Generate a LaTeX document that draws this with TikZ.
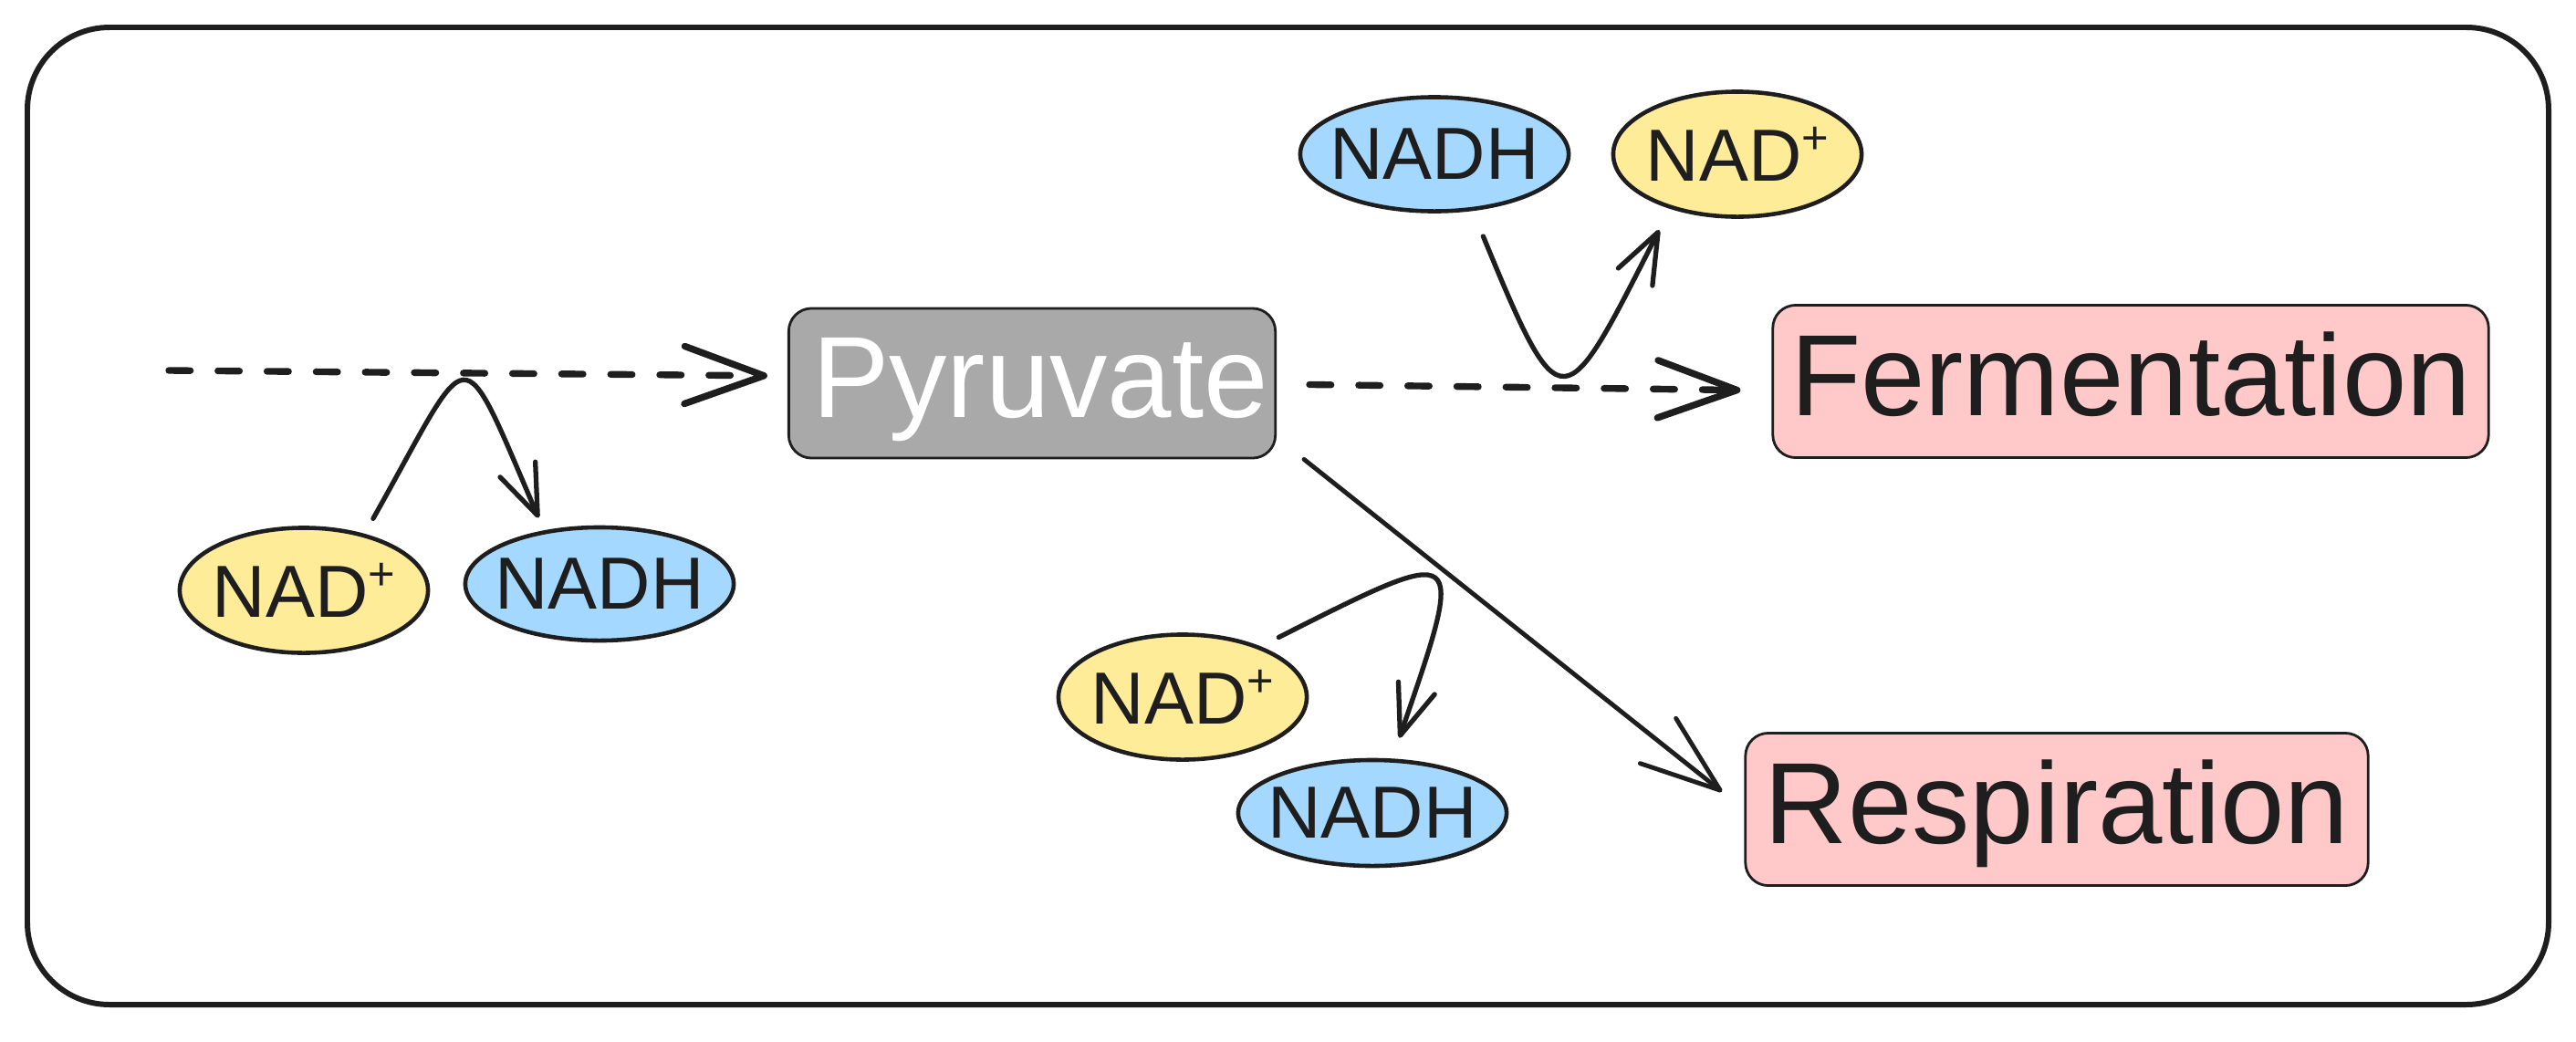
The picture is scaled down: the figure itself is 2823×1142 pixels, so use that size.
\documentclass[tikz,border=0pt]{standalone}
\usepackage{fontspec}
\setmainfont{Liberation Sans}
\usetikzlibrary{arrows.meta,shapes.geometric}
\definecolor{ink}{HTML}{1E1E1E}
\definecolor{nadyellow}{HTML}{FFEC99}
\definecolor{nadhblue}{HTML}{A5D8FF}
\definecolor{fatepink}{HTML}{FFC9C9}
\definecolor{pyrgray}{HTML}{A9A9A9}
\newcommand{\NADp}{NAD\raisebox{8.7pt}{\fontsize{14.4}{14}\selectfont+}}

\begin{document}
\begin{tikzpicture}[x=0.01cm,y=-0.01cm,
  stage/.style={draw=ink,line width=0.8pt,rounded corners=0.25cm,inner sep=0pt,
    font=\fontsize{36}{42}\selectfont,text height=0.97cm,text depth=0.22cm},
  carrier/.style={ellipse,draw=ink,line width=1.3pt,inner xsep=-4pt,inner ysep=0pt,
    text=ink,font=\fontsize{23}{28}\selectfont},
  nadplus/.style={carrier,fill=nadyellow,minimum width=2.72cm,minimum height=1.37cm},
  nadh/.style={carrier,fill=nadhblue,minimum width=2.94cm,minimum height=1.24cm},
  flow/.style={draw=ink,line width=1.4pt,line cap=round,
    -{Straight Barb[length=0.87cm,width=0.63cm,round]}},
  dashflow/.style={flow,line width=2.1pt,dash pattern=on 6.7pt off 8.6pt},
  cofactor/.style={draw=ink,line width=1.5pt,line cap=round,
    -{Straight Barb[length=0.55cm,width=0.42cm,round]}}]
\useasboundingbox (0,0) rectangle (2823,1142);
\draw[ink,line width=1.7pt,rounded corners=0.9cm] (30,30) rectangle (2793,1101);

% main stages
\node[stage,fill=pyrgray,text=white,minimum width=5.33cm,minimum height=1.64cm] (pyr) at (1131,420) {\hspace*{0.18cm}Pyruvate};
\node[stage,fill=fatepink,text=ink,minimum width=7.84cm,minimum height=1.67cm] (ferm) at (2335,418) {Fermentation};
\node[stage,fill=fatepink,text=ink,minimum width=6.82cm,minimum height=1.67cm] (resp) at (2254,887) {Respiration};

% electron carriers
\node[nadplus] (nadL) at (333,647) {\NADp};
\node[nadh] (nadhL) at (657,640) {NADH};
\node[nadh,minimum height=1.25cm] (nadhT) at (1572,169) {NADH};
\node[nadplus] (nadT) at (1904,169) {\NADp};
\node[nadplus] (nadB) at (1296,764) {\NADp};
\node[nadh,minimum height=1.16cm] (nadhB) at (1504,891) {NADH};

% flows
\coordinate (feed) at (185,406);
\draw[dashflow,shorten >=0.22cm] (feed) -- ([yshift=0.08cm]pyr.west);
\draw[dashflow,shorten <=0.36cm,shorten >=0.34cm] ([yshift=-0.01cm]pyr.east) -- ([yshift=-0.1cm]ferm.west);
\draw[flow,shorten >=0.31cm] ([xshift=0.3cm]pyr.south east) -- (resp.west);

% NAD+ / NADH exchange
\draw[cofactor,shorten <=0.19cm,shorten >=0.15cm] (nadL.43) .. controls +(120,-213) and +(-95,-220) .. (nadhL.136);
\draw[cofactor,shorten <=0.3cm,shorten >=0.26cm] (nadhT.-56) .. controls +(98,238) and +(-117,230) .. (nadT.-141);
\draw[cofactor,shorten <=0.22cm,shorten >=0.24cm] (nadB.33) .. controls +(226,-114) and +(82,-238) .. (nadhB.70);
\end{tikzpicture}
\end{document}
